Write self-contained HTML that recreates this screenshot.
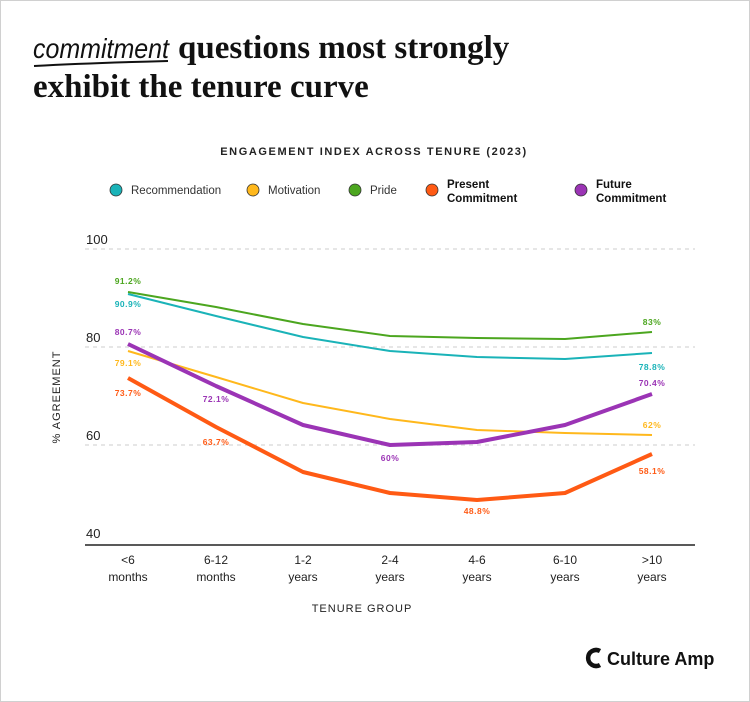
<!DOCTYPE html>
<html><head><meta charset="utf-8"><style>
body{margin:0;background:#fff}
.w{position:relative;width:748px;height:700px;border:1px solid #d0d0d0;background:#fff;font-family:"Liberation Sans",sans-serif;overflow:hidden}
</style></head><body><div class="w">
<svg width="748" height="700" viewBox="1 1 748 700" xmlns="http://www.w3.org/2000/svg" font-family="Liberation Sans, sans-serif">
<text x="33" y="58" font-family="Liberation Sans, sans-serif" font-style="italic" font-size="28" fill="#111" textLength="136" lengthAdjust="spacingAndGlyphs">commitment</text>
<path d="M34 66 Q90 63 168 61" stroke="#111" stroke-width="2" fill="none"/>
<text x="178" y="58" font-family="Liberation Serif, serif" font-weight="bold" font-size="33" fill="#111">questions most strongly</text>
<text x="33" y="97" font-family="Liberation Serif, serif" font-weight="bold" font-size="33" fill="#111">exhibit the tenure curve</text>
<text x="374" y="155" text-anchor="middle" font-size="11" font-weight="bold" letter-spacing="1.6" fill="#222">ENGAGEMENT INDEX ACROSS TENURE (2023)</text>
<g font-size="11.5" fill="#333">
<circle cx="116" cy="190" r="6" fill="#1ab3b8" stroke="#333" stroke-width="0.8"/><text x="131" y="194">Recommendation</text>
<circle cx="253" cy="190" r="6" fill="#ffb81c" stroke="#333" stroke-width="0.8"/><text x="268" y="194">Motivation</text>
<circle cx="355" cy="190" r="6" fill="#4ca61f" stroke="#333" stroke-width="0.8"/><text x="370" y="194">Pride</text>
<circle cx="432" cy="190" r="6" fill="#ff5a14" stroke="#333" stroke-width="0.8"/><text x="447" y="188" font-weight="bold" fill="#111">Present</text><text x="447" y="202" font-weight="bold" fill="#111">Commitment</text>
<circle cx="581" cy="190" r="6" fill="#9b34b5" stroke="#333" stroke-width="0.8"/><text x="596" y="188" font-weight="bold" fill="#111">Future</text><text x="596" y="202" font-weight="bold" fill="#111">Commitment</text>
</g>
<g stroke="#ddd" stroke-dasharray="4 4" stroke-width="1.5"><line x1="85" y1="249" x2="695" y2="249"/><line x1="85" y1="347" x2="695" y2="347"/><line x1="85" y1="445" x2="695" y2="445"/></g>
<line x1="85" y1="545" x2="695" y2="545" stroke="#222" stroke-width="1.5"/>
<g font-size="13" fill="#222"><text x="86" y="244">100</text><text x="86" y="342">80</text><text x="86" y="440">60</text><text x="86" y="538">40</text></g>
<text transform="translate(60,397) rotate(-90)" text-anchor="middle" font-size="11" letter-spacing="1" fill="#222">% AGREEMENT</text>
<g font-size="12" fill="#222" text-anchor="middle">
<text x="128" y="564">&lt;6</text><text x="128" y="581">months</text>
<text x="216" y="564">6-12</text><text x="216" y="581">months</text>
<text x="303" y="564">1-2</text><text x="303" y="581">years</text>
<text x="390" y="564">2-4</text><text x="390" y="581">years</text>
<text x="477" y="564">4-6</text><text x="477" y="581">years</text>
<text x="565" y="564">6-10</text><text x="565" y="581">years</text>
<text x="652" y="564">&gt;10</text><text x="652" y="581">years</text>
</g>
<text x="362" y="612" text-anchor="middle" font-size="11" letter-spacing="1" fill="#222">TENURE GROUP</text>
<g fill="none" stroke-linejoin="round">
<polyline stroke="#4ca61f" stroke-width="2" points="128,292 216,307 303,324 390,336 477,338 565,339 652,332"/>
<polyline stroke="#1ab3b8" stroke-width="2" points="128,294 216,316 303,337 390,351 477,357 565,359 652,353"/>
<polyline stroke="#ffb81c" stroke-width="2" points="128,351 216,377 303,403 390,419 477,430 565,433 652,435"/>
<polyline stroke="#9b34b5" stroke-width="4" points="128,344 216,386 303,425 390,445 477,442 565,425 652,394"/>
<polyline stroke="#ff5a14" stroke-width="4" points="128,378 216,427 303,472 390,493 477,500 565,493 652,454"/>
</g>
<g font-size="8.5" font-weight="bold" text-anchor="middle" letter-spacing="0.5">
<text x="128" y="284" fill="#4ca61f">91.2%</text>
<text x="128" y="307" fill="#1ab3b8">90.9%</text>
<text x="128" y="335" fill="#9b34b5">80.7%</text>
<text x="128" y="366" fill="#ffb81c">79.1%</text>
<text x="128" y="396" fill="#ff5a14">73.7%</text>
<text x="216" y="402" fill="#9b34b5">72.1%</text>
<text x="216" y="445" fill="#ff5a14">63.7%</text>
<text x="390" y="461" fill="#9b34b5">60%</text>
<text x="477" y="514" fill="#ff5a14">48.8%</text>
<text x="652" y="325" fill="#4ca61f">83%</text>
<text x="652" y="370" fill="#1ab3b8">78.8%</text>
<text x="652" y="386" fill="#9b34b5">70.4%</text>
<text x="652" y="428" fill="#ffb81c">62%</text>
<text x="652" y="474" fill="#ff5a14">58.1%</text>
</g>
<path d="M600 651 a8 8 0 1 0 0 14" stroke="#111" stroke-width="4.5" fill="none"/>
<text x="607" y="665" font-size="18" font-weight="bold" fill="#111">Culture Amp</text>
</svg></div></body></html>
